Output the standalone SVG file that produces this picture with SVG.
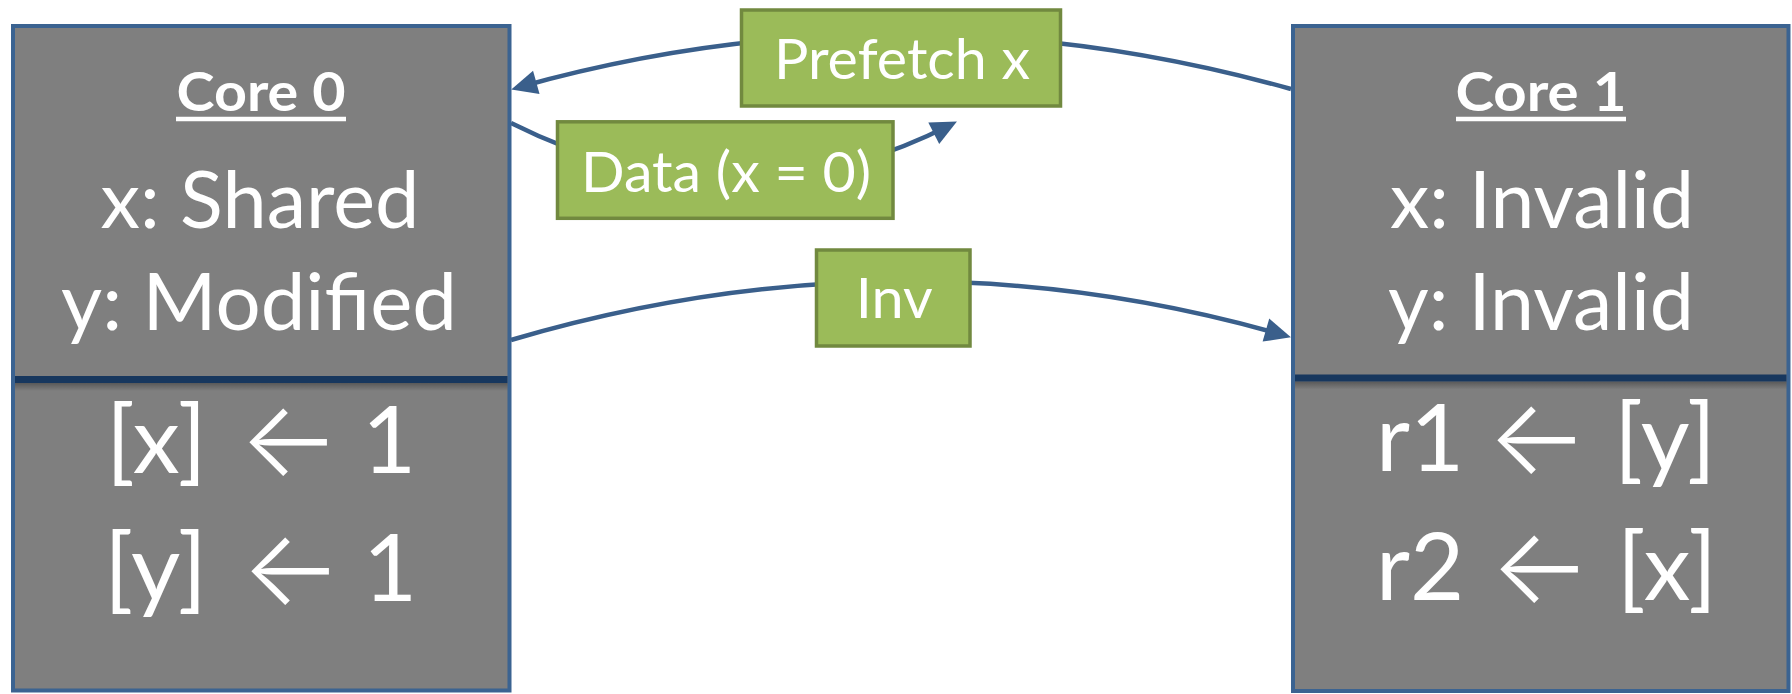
<svg xmlns="http://www.w3.org/2000/svg" width="1792" height="694" viewBox="0 0 1792 694">
<style>
.core{fill:#7F7F7F;stroke:#3B6391;stroke-width:4}
.div{stroke:#17375E;stroke-width:7}
.t{font-family:Lato,"Open Sans","Liberation Sans",sans-serif;fill:#FFFFFF}
.title{font-weight:bold;font-size:54.4px}
.st{font-size:79px}
.op{font-size:93.5px}
.ul{stroke:#FFFFFF;stroke-width:4.5}
.lbl{fill:#9BBB59;stroke:#71893F;stroke-width:3.5}
.lt{font-size:56px}
.con{fill:none;stroke:#3A5F8B;stroke-width:4.5}
.arr{font-family:Inter,"DejaVu Sans",sans-serif;font-size:106px;font-weight:300}
</style>
<defs>
<marker id="ah" markerUnits="userSpaceOnUse" markerWidth="26" markerHeight="24" refX="19" refY="12" orient="auto" overflow="visible">
<path d="M0,0 L26,12 L0,24 z" fill="#3A5F8B"/>
</marker>
<linearGradient id="sh" x1="0" y1="0" x2="0" y2="1">
<stop offset="0" stop-color="#000" stop-opacity="0.3"/>
<stop offset="1" stop-color="#000" stop-opacity="0"/>
</linearGradient>
</defs>

<g id="connectors">
<path class="con" d="M1291,89 Q901,-20 518,87.5" marker-end="url(#ah)"/>
<path class="con" d="M511,123 Q734,235 950.7,124.7" marker-end="url(#ah)"/>
<path class="con" d="M511,340 Q901,225 1284.2,335.3" marker-end="url(#ah)"/>
<g id="label-prefetch">
<rect class="lbl" x="741.5" y="10" width="319" height="96"/>
<text class="t lt" x="902" y="79.3" text-anchor="middle" textLength="256" lengthAdjust="spacingAndGlyphs">Prefetch x</text>
</g>
<g id="label-data">
<rect class="lbl" x="557.5" y="121.8" width="335.5" height="96.5"/>
<text class="t lt" x="726" y="191.7" text-anchor="middle" textLength="290" lengthAdjust="spacingAndGlyphs">Data (x = 0)</text>
</g>
<g id="label-inv">
<rect class="lbl" x="816.5" y="250" width="153.5" height="96"/>
<text class="t lt" x="894.3" y="318" text-anchor="middle" textLength="77" lengthAdjust="spacingAndGlyphs">Inv</text>
</g>
</g>

<g id="core0">
<rect class="core" x="13" y="26" width="496.5" height="664.5"/>
<rect x="15" y="383" width="492.5" height="8" fill="url(#sh)"/>
<line class="div" x1="15" y1="379.5" x2="507.5" y2="379.5"/>
<text class="t title" x="261" y="110.7" text-anchor="middle" textLength="169" lengthAdjust="spacingAndGlyphs">Core 0</text>
<line class="ul" x1="176" y1="119" x2="346" y2="119"/>
<text class="t"><tspan class="st" x="100.5" y="228" textLength="319" lengthAdjust="spacingAndGlyphs">x: Shared</tspan>
<tspan class="st" x="61" y="330" textLength="396" lengthAdjust="spacingAndGlyphs">y: Modified</tspan>
<tspan class="op" x="106" y="472.7" textLength="100.6" lengthAdjust="spacingAndGlyphs">[x]</tspan> <tspan class="arr" x="239" y="476.3">←</tspan> <tspan class="op" x="362" y="472.7">1</tspan>
<tspan class="op" x="104" y="601" textLength="103" lengthAdjust="spacingAndGlyphs">[y]</tspan> <tspan class="arr" x="241" y="604.9">←</tspan> <tspan class="op" x="363" y="601">1</tspan></text>
</g>

<g id="core1">
<rect class="core" x="1293" y="26" width="495.5" height="665"/>
<rect x="1295" y="381.5" width="491.5" height="8" fill="url(#sh)"/>
<line class="div" x1="1295" y1="378" x2="1786.5" y2="378"/>
<text class="t title" x="1541" y="110.7" text-anchor="middle" textLength="171" lengthAdjust="spacingAndGlyphs">Core 1</text>
<line class="ul" x1="1456" y1="119" x2="1626" y2="119"/>
<text class="t"><tspan class="st" x="1390" y="228" textLength="304" lengthAdjust="spacingAndGlyphs">x: Invalid</tspan>
<tspan class="st" x="1388" y="330" textLength="306" lengthAdjust="spacingAndGlyphs">y: Invalid</tspan>
<tspan class="op" x="1376" y="471">r1</tspan> <tspan class="arr" x="1487" y="474.1">←</tspan> <tspan class="op" x="1614" y="471" textLength="102" lengthAdjust="spacingAndGlyphs">[y]</tspan>
<tspan class="op" x="1376" y="600">r2</tspan> <tspan class="arr" x="1490" y="603.4">←</tspan> <tspan class="op" x="1617" y="600" textLength="100" lengthAdjust="spacingAndGlyphs">[x]</tspan></text>
</g>
</svg>
